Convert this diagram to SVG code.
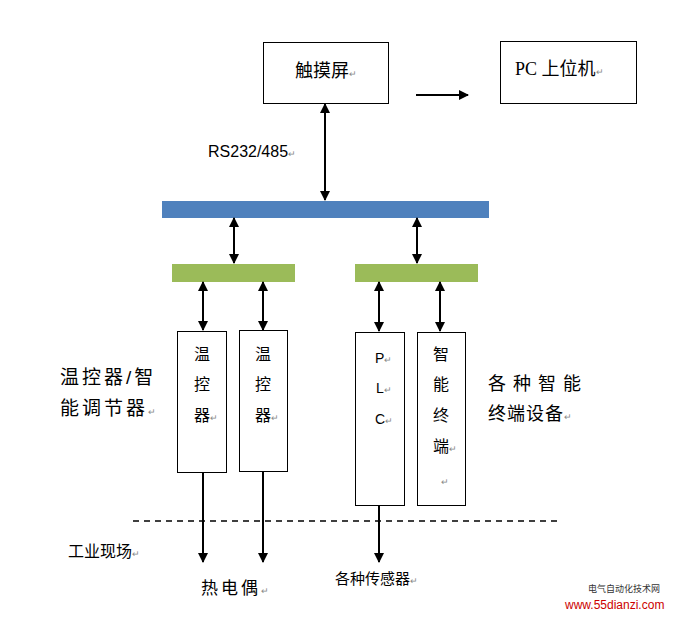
<svg xmlns="http://www.w3.org/2000/svg" width="679" height="617" viewBox="0 0 679 617">
<defs>
<marker id="ah" markerWidth="10" markerHeight="12" refX="9" refY="5" orient="auto-start-reverse" markerUnits="userSpaceOnUse">
<path d="M0,0 L10,5 L0,10 Z" fill="#000"/>
</marker>
<style>
.box{fill:#fff;stroke:#000;stroke-width:1}
.t{font-family:"Liberation Sans","Noto Sans CJK SC",sans-serif;fill:#000}
.pm{font-family:"Liberation Sans","Noto Sans CJK SC",sans-serif;fill:#888;font-size:9px}
.ln{stroke:#000;stroke-width:2;fill:none}
</style>
</defs>
<rect width="679" height="617" fill="#fff"/>
<g id="touch">
<rect class="box" x="263.5" y="42.5" width="125" height="61"/>
<text class="t" x="295" y="77" font-size="18">触摸屏<tspan class="pm">↵</tspan></text>
</g>
<g id="pc">
<rect class="box" x="500.5" y="41.5" width="136" height="62"/>
<text class="t" x="515" y="75" font-size="18" style="font-family:'Liberation Serif','Noto Sans CJK SC',serif">PC 上位机<tspan class="pm">↵</tspan></text>
</g>
<g id="bus">
<rect x="162" y="201" width="327" height="17" fill="#4f81bd"/>
</g>
<g id="hubL"><rect x="172" y="264" width="123" height="18" fill="#9bbb59"/></g>
<g id="hubR"><rect x="355" y="264" width="123" height="18" fill="#9bbb59"/></g>
<g id="tc1">
<rect class="box" x="177.5" y="331.5" width="49" height="141"/>
<text class="t" font-size="16" x="194" y="360">温</text>
<text class="t" font-size="16" x="194" y="390">控</text>
<text class="t" font-size="16" x="194" y="421">器<tspan class="pm">↵</tspan></text>
</g>
<g id="tc2">
<rect class="box" x="239.5" y="330.5" width="48" height="141"/>
<text class="t" font-size="16" x="255" y="360">温</text>
<text class="t" font-size="16" x="255" y="390">控</text>
<text class="t" font-size="16" x="255" y="421">器<tspan class="pm">↵</tspan></text>
</g>
<g id="plc">
<rect class="box" x="355.5" y="332.5" width="49" height="173"/>
<text class="t" font-size="14" x="375" y="363">P<tspan class="pm">↵</tspan></text>
<text class="t" font-size="14" x="376" y="393">L<tspan class="pm">↵</tspan></text>
<text class="t" font-size="14" x="375" y="424">C<tspan class="pm">↵</tspan></text>
</g>
<g id="smart">
<rect class="box" x="417.5" y="332.5" width="48" height="173"/>
<text class="t" font-size="16" x="433" y="360">智</text>
<text class="t" font-size="16" x="433" y="390">能</text>
<text class="t" font-size="16" x="433" y="421">终</text>
<text class="t" font-size="16" x="433" y="452">端<tspan class="pm">↵</tspan></text>
<text class="pm" x="441" y="485">↵</text>
</g>
<g id="labels">
<text class="t" x="208" y="157" font-size="16">RS232/485<tspan class="pm">↵</tspan></text>
<text class="t" x="60" y="384" font-size="19" letter-spacing="3">温控器/智</text>
<text class="t" x="60" y="415" font-size="19" letter-spacing="3">能调节器<tspan class="pm">↵</tspan></text>
<text class="t" x="488" y="390" font-size="18" letter-spacing="7">各种智能</text>
<text class="t" x="488" y="420" font-size="18" letter-spacing="1">终端设备<tspan class="pm">↵</tspan></text>
<text class="t" x="68" y="557" font-size="16">工业现场<tspan class="pm">↵</tspan></text>
<text class="t" x="201" y="594" font-size="17" letter-spacing="3">热电偶<tspan class="pm">↵</tspan></text>
<text class="t" x="335" y="584" font-size="15">各种传感器<tspan class="pm">↵</tspan></text>
<text x="588" y="592" font-size="9" fill="#333" font-family="'Noto Sans CJK SC',sans-serif">电气自动化技术网</text>
<text x="565" y="609" font-size="12" fill="#cc0000" font-family="'Liberation Sans',sans-serif">www.55dianzi.com</text>
</g>
<g id="connectors">
<line class="ln" x1="416" y1="95" x2="468" y2="95" marker-end="url(#ah)"/>
<line class="ln" x1="325" y1="104" x2="325" y2="200" marker-start="url(#ah)" marker-end="url(#ah)"/>
<line class="ln" x1="234" y1="218" x2="234" y2="263" marker-start="url(#ah)" marker-end="url(#ah)"/>
<line class="ln" x1="417" y1="218" x2="417" y2="263" marker-start="url(#ah)" marker-end="url(#ah)"/>
<line class="ln" x1="203" y1="282" x2="203" y2="330" marker-start="url(#ah)" marker-end="url(#ah)"/>
<line class="ln" x1="263" y1="282" x2="263" y2="330" marker-start="url(#ah)" marker-end="url(#ah)"/>
<line class="ln" x1="379" y1="282" x2="379" y2="331" marker-start="url(#ah)" marker-end="url(#ah)"/>
<line class="ln" x1="440" y1="282" x2="440" y2="331" marker-start="url(#ah)" marker-end="url(#ah)"/>
<line class="ln" x1="203" y1="473" x2="203" y2="562" marker-end="url(#ah)"/>
<line class="ln" x1="263" y1="472" x2="263" y2="562" marker-end="url(#ah)"/>
<line class="ln" x1="379" y1="506" x2="379" y2="562" marker-end="url(#ah)"/>
<line x1="133" y1="521" x2="560" y2="521" stroke="#000" stroke-width="1.5" stroke-dasharray="6,5"/>
</g>
</svg>
